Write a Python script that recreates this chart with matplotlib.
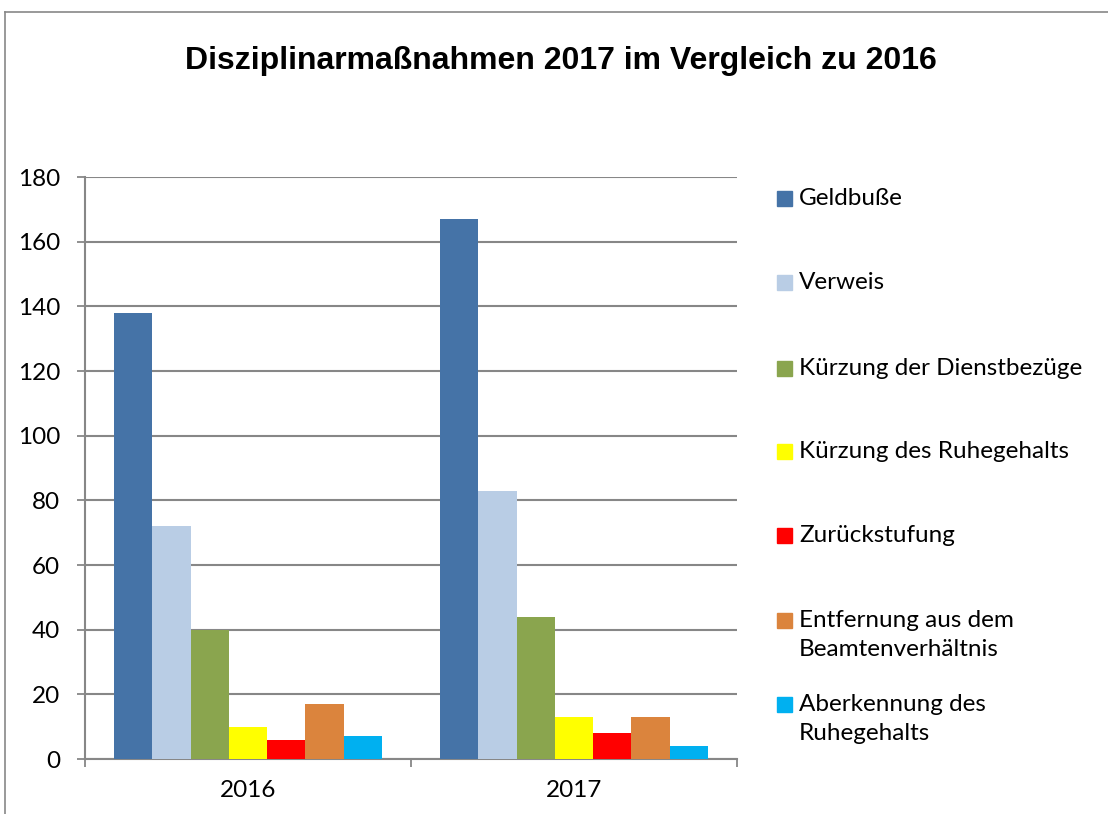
import matplotlib.pyplot as plt
from matplotlib.lines import Line2D
from matplotlib.patches import Rectangle
import numpy as np

# Daten
years = ['2016', '2017']
series = ['Geldbuße', 'Verweis', 'Kürzung der Dienstbezüge', 'Kürzung des Ruhegehalts',
          'Zurückstufung', 'Entfernung aus dem\nBeamtenverhältnis', 'Aberkennung des\nRuhegehalts']
values_2016 = [138, 72, 40, 10, 6, 17, 7]
values_2017 = [167, 83, 44, 13, 8, 13, 4]
colors = ['#4573a7', '#b9cde5', '#8aa54e', '#ffff00', '#ff0000', '#db843d', '#00b0f0']

W, H = 1108, 814
fig = plt.figure(figsize=(W / 100, H / 100), dpi=100)
ax = fig.add_axes([85 / W, 1 - 759 / H, (737 - 85) / W, (759 - 177) / H])

x = np.arange(len(years))
width = 0.1175
data = np.array([values_2016, values_2017])
for i, (name, c) in enumerate(zip(series, colors)):
    off = (i - (len(series) - 1) / 2) * width
    ax.bar(x + off, data[:, i], width=width, color=c, linewidth=0, zorder=3)

grid_c = '#878787'
ax.set_xlim(-0.5, 1.5)
ax.set_ylim(0, 180)
ax.set_yticks(range(0, 181, 20))
ax.yaxis.grid(True, color=grid_c, linewidth=1.5, zorder=0)
ax.set_xticks([-0.5, 0.5, 1.5], minor=False)
ax.set_xticklabels([])
ax.set_xticks(x, minor=True)
ax.set_xticklabels(years, minor=True)
ax.tick_params(axis='x', which='minor', length=0, pad=15, labelsize=17.5)
ax.tick_params(axis='x', which='major', length=6, width=1.3, color=grid_c, direction='out')
ax.tick_params(axis='y', length=6, width=1.3, color=grid_c, direction='out', pad=12, labelsize=17.5)
for lab in ax.get_xticklabels(minor=True) + ax.get_yticklabels():
    lab.set_fontfamily('Lato')
for s in ['top', 'right']:
    ax.spines[s].set_visible(False)
for s in ['left', 'bottom']:
    ax.spines[s].set_color(grid_c)
    ax.spines[s].set_linewidth(1.5)

# Titel
fig.text(561 / W, 1 - 61 / H, 'Disziplinarmaßnahmen 2017 im Vergleich zu 2016',
         ha='center', va='center', fontsize=23, fontweight='bold', family='Liberation Sans')

# Legende (manuell, damit das Quadrat an der ersten Zeile sitzt)
legend_y = [199, 283, 369, 452, 536, 621, 705]
for name, c, yy in zip(series, colors, legend_y):
    fig.patches.append(Rectangle((777 / W, 1 - (yy + 7) / H), 15 / W, 15 / H,
                                 transform=fig.transFigure, color=c, figure=fig))
    fig.text(799 / W, 1 - (yy - 11) / H, name, ha='left', va='top', fontsize=17.5,
             family='Lato', linespacing=1.5)

# Rahmen
fig.add_artist(Line2D([5 / W, 1], [1 - 12 / H, 1 - 12 / H], color=grid_c, linewidth=1.2,
                      transform=fig.transFigure))
fig.add_artist(Line2D([5 / W, 5 / W], [1 - 12 / H, 0], color=grid_c, linewidth=1.2,
                      transform=fig.transFigure))

fig.savefig('out.png', dpi=100)
